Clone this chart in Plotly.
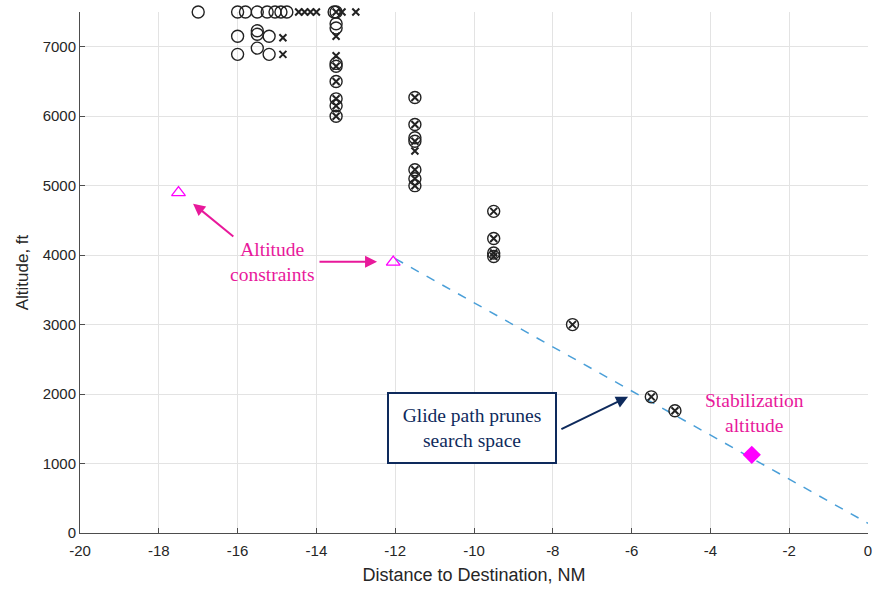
import plotly.graph_objects as go

# Search-space samples (open circles) and pruned/expanded nodes (crosses)
circle_x = [-17.0, -16.0, -15.8, -15.5, -15.25, -15.05, -14.9, -14.75, -13.55, -13.5,
            -16.0, -15.5, -15.5, -15.2,
            -16.0, -15.5, -15.2,
            -13.5, -13.5, -13.5, -13.5, -13.5, -13.5, -13.5, -13.5,
            -11.5, -11.5, -11.5, -11.5, -11.5, -11.5, -11.5,
            -9.5, -9.5, -9.5, -9.5,
            -7.5, -5.5, -4.9]
circle_y = [7500, 7500, 7500, 7500, 7500, 7500, 7500, 7500, 7500, 7500,
            7150, 7230, 7180, 7150,
            6890, 6980, 6890,
            7330, 7270, 6760, 6720, 6500, 6250, 6150, 6000,
            6270, 5880, 5690, 5640, 5230, 5100, 5000,
            4630, 4240, 4030, 3980,
            3000, 1960, 1760]

cross_x = [-14.45, -14.3, -14.15, -14.0, -13.5, -13.35, -13.0,
           -14.85, -14.85,
           -13.5, -13.5, -13.5, -13.5, -13.5, -13.5, -13.5,
           -11.5, -11.5, -11.5, -11.5, -11.5, -11.5, -11.5,
           -9.5, -9.5, -9.5, -9.5,
           -7.5, -5.5, -4.9]
cross_y = [7500, 7500, 7500, 7500, 7500, 7500, 7500,
           7130, 6890,
           7150, 6870, 6720, 6500, 6250, 6150, 6000,
           6270, 5880, 5640, 5500, 5230, 5100, 5000,
           4630, 4240, 4030, 3980,
           3000, 1960, 1760]

constraint_x = [-17.5, -12.05]
constraint_y = [4900, 3900]

stab_x = [-2.95]
stab_y = [1125]

glide_x = [-12.0, 0.0]
glide_y = [3950, 140]

x_ticks = [-20, -18, -16, -14, -12, -10, -8, -6, -4, -2, 0]
x_tick_labels = ["-20", "-18", "-16", "-14", "-12", "-10", "-8", "-6", "-4", "-2", "0"]
y_ticks = [0, 1000, 2000, 3000, 4000, 5000, 6000, 7000]
y_tick_labels = ["0", "1000", "2000", "3000", "4000", "5000", "6000", "7000"]

pink = "#E8199B"
navy = "#0E2A5C"

fig = go.Figure()
fig.add_trace(go.Scatter(x=glide_x, y=glide_y, mode="lines",
                         line=dict(color="#4A9FD8", width=1.5, dash="dash"),
                         hoverinfo="skip"))
fig.add_trace(go.Scatter(x=circle_x, y=circle_y, mode="markers", cliponaxis=False,
                         marker=dict(symbol="circle-open", size=12, color="#222222",
                                     line=dict(width=1.4, color="#222222"))))
fig.add_trace(go.Scatter(x=cross_x, y=cross_y, mode="markers", cliponaxis=False,
                         marker=dict(symbol="x-thin-open", size=7, color="#222222",
                                     line=dict(width=2, color="#222222"))))
fig.add_trace(go.Scatter(x=constraint_x, y=constraint_y, mode="markers", cliponaxis=False,
                         marker=dict(symbol="triangle-up-open", size=12, color="#FF00FF",
                                     line=dict(width=1.3, color="#FF00FF"))))
fig.add_trace(go.Scatter(x=stab_x, y=stab_y, mode="markers", cliponaxis=False,
                         marker=dict(symbol="diamond", size=14, color="#FF00FF",
                                     line=dict(width=0))))

serif = "Liberation Serif"
fs = 19.5
annotations = [
    dict(x=-15.13, y=3905, text="Altitude<br>constraints", showarrow=False,
         font=dict(family=serif, size=fs, color=pink)),
    dict(x=-17.13, y=4741, ax=-16.07, ay=4251, xref="x", yref="y", axref="x", ayref="y",
         text="", showarrow=True, arrowhead=2, arrowsize=1.2, arrowwidth=2, arrowcolor=pink),
    dict(x=-12.46, y=3905, ax=-13.96, ay=3905, xref="x", yref="y", axref="x", ayref="y",
         text="", showarrow=True, arrowhead=2, arrowsize=1.2, arrowwidth=2, arrowcolor=pink),
    dict(x=-10.05, y=1513, text="Glide path prunes<br>search space", showarrow=False,
         font=dict(family=serif, size=fs, color=navy), bgcolor="white",
         bordercolor=navy, borderwidth=2, borderpad=8, width=150, height=52),
    dict(x=-6.09, y=1960, ax=-7.82, ay=1484, xref="x", yref="y", axref="x", ayref="y",
         text="", showarrow=True, arrowhead=2, arrowsize=1.2, arrowwidth=2, arrowcolor=navy),
    dict(x=-2.89, y=1729, text="Stabilization<br>altitude", showarrow=False,
         font=dict(family=serif, size=fs, color=pink)),
]

fig.update_layout(
    width=878, height=592,
    margin=dict(l=80, r=6, t=12, b=59),
    paper_bgcolor="white", plot_bgcolor="white",
    showlegend=False,
    font=dict(family="Liberation Sans", color="#262626"),
    annotations=annotations,
    xaxis=dict(range=[-20, 0], tickvals=x_ticks, ticktext=x_tick_labels,
               showgrid=True, gridcolor="#E3E3E3", gridwidth=1,
               zeroline=False, showline=True, linecolor="#4D4D4D", linewidth=1,
               ticks="inside", ticklen=5, tickcolor="#4D4D4D",
               ticklabelstandoff=4,
               tickfont=dict(size=15, color="#262626"),
               title=dict(text="Distance to Destination, NM", font=dict(size=18, color="#262626"),
                          standoff=10)),
    yaxis=dict(range=[0, 7500], tickvals=y_ticks, ticktext=y_tick_labels,
               showgrid=True, gridcolor="#E3E3E3", gridwidth=1,
               zeroline=False, showline=True, linecolor="#4D4D4D", linewidth=1,
               ticks="inside", ticklen=5, tickcolor="#4D4D4D",
               tickfont=dict(size=15, color="#262626"),
               title=dict(text="Altitude, ft", font=dict(size=17, color="#262626"),
                          standoff=9)),
)

fig.write_html("out.html")
